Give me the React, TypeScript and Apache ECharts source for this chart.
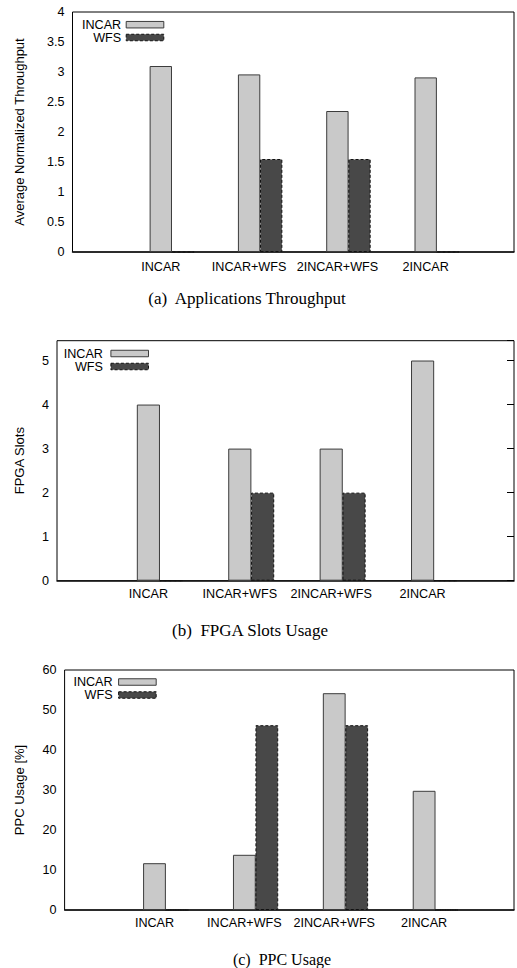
import React, { useEffect, useRef } from 'react';
import * as echarts from 'echarts';

// ---- data ----
const categories = ['INCAR', 'INCAR+WFS', '2INCAR+WFS', '2INCAR'];
const seriesNames = ['INCAR', 'WFS'];
const throughputIncar = [3.1, 2.96, 2.35, 2.91];
const throughputWfs = [0, 1.55, 1.55, 0];
const slotsIncar = [4, 3, 3, 5];
const slotsWfs = [0, 2, 2, 0];
const ppcIncar = [11.7, 13.8, 54.2, 29.8];
const ppcWfs = [0, 46.2, 46.2, 0];
const yTitles = ['Average Normalized Throughput', 'FPGA Slots', 'PPC Usage [%]'];
const captions = ['(a)\u00a0 Applications Throughput', '(b)\u00a0 FPGA Slots Usage', '(c)\u00a0 PPC Usage'];
const yMax = [4, 5.45, 60];
const yStep = [0.5, 1, 10];

// ---- layout / style ----
const W = 517;
const H = 968;
const SANS = '"Liberation Sans", Arial, Helvetica, sans-serif';
const SERIF = '"Liberation Serif", "Times New Roman", serif';
const BAR_FRAC = 0.25;

const panels = [
  { left: 72.5, top: 12, width: 447.5, height: 240, nameGap: 46.5, labelMargin: 8.5,
    legendRight: 352.7, legendTops: [18.2, 31], textPad: 0, rightTicks: false,
    capX: 247, capY: 298, capSize: 17, incar: throughputIncar, wfs: throughputWfs },
  { left: 57, top: 340.7, width: 463, height: 240, nameGap: 31, labelMargin: 6.5,
    legendRight: 368, legendTops: [347, 360], textPad: 3, rightTicks: true,
    capX: 250, capY: 630, capSize: 17, incar: slotsIncar, wfs: slotsWfs },
  { left: 64.6, top: 670, width: 456, height: 240, nameGap: 38.6, labelMargin: 6,
    legendRight: 360.3, legendTops: [675.5, 688.5], textPad: 1, rightTicks: false,
    capX: 282, capY: 959, capSize: 16, incar: ppcIncar, wfs: ppcWfs },
];

const incarStyle = { color: '#c9c9c9', borderColor: '#3c3c3c', borderWidth: 1 };
const wfsStyle = { color: '#484848', borderColor: '#111111', borderWidth: 1, borderType: [3, 2] as any };

function buildOption() {
  const grid: any[] = [];
  const xAxis: any[] = [];
  const yAxis: any[] = [];
  const series: any[] = [];
  const legend: any[] = [];
  const graphic: any[] = [];

  panels.forEach((p, k) => {
    grid.push({
      left: p.left, top: p.top, width: p.width, height: p.height,
      show: true, borderColor: '#000', borderWidth: 1, backgroundColor: 'transparent',
    });
    xAxis.push({
      type: 'value', gridIndex: k, min: -1, max: 4, interval: 1,
      axisLine: { show: true, lineStyle: { color: '#111', width: 1.5 } },
      axisTick: { show: false },
      splitLine: { show: false },
      axisLabel: {
        margin: p.labelMargin, color: '#000', fontSize: 12.6, fontFamily: SANS,
        formatter: (v: number) => (categories[v] !== undefined ? categories[v] : ''),
      },
    });
    const yIdx = yAxis.length;
    yAxis.push({
      type: 'value', gridIndex: k, min: 0, max: yMax[k], interval: yStep[k],
      name: yTitles[k], nameLocation: 'middle', nameGap: p.nameGap,
      nameTextStyle: { color: '#000', fontSize: 13, fontFamily: SANS },
      axisLine: { show: false },
      axisTick: { show: false },
      splitLine: { show: false },
      axisLabel: {
        margin: 8, color: '#000', fontSize: 12.6, fontFamily: SANS,
        formatter: (v: number) => {
          const r = Math.round(v / yStep[k]);
          return Math.abs(r * yStep[k] - v) < 1e-9 ? String(v) : '';
        },
      },
    });
    if (p.rightTicks) {
      yAxis.push({
        type: 'value', gridIndex: k, position: 'right', min: 0, max: yMax[k], interval: yStep[k],
        axisLine: { show: false },
        axisTick: { show: true, inside: true, length: 7, lineStyle: { color: '#000', width: 1 } },
        axisLabel: { show: false },
        splitLine: { show: false },
      });
    }
    const barW = (p.width / 5) * BAR_FRAC;
    series.push({
      type: 'bar', name: seriesNames[0], xAxisIndex: k, yAxisIndex: yIdx,
      barWidth: barW, barGap: '-100%',
      data: p.incar.map((v, i) => [i, v]),
      itemStyle: incarStyle,
    });
    series.push({
      type: 'bar', name: seriesNames[1], xAxisIndex: k, yAxisIndex: yIdx,
      barWidth: barW, barGap: '-100%',
      data: p.wfs.map((v, i) => [i + BAR_FRAC, v]),
      itemStyle: wfsStyle,
    });
    [incarStyle, wfsStyle].forEach((st, j) => {
      legend.push({
        orient: 'vertical', align: 'right', right: p.legendRight, top: p.legendTops[j],
        padding: 0, itemWidth: 37.6, itemHeight: 6.5, icon: 'rect', selectedMode: false,
        data: [seriesNames[j]],
        itemStyle: st,
        textStyle: { color: '#000', fontSize: 12.6, fontFamily: SANS, lineHeight: 13, padding: [0, p.textPad, 0, 0] },
      });
    });
    graphic.push({
      type: 'text', x: p.capX, y: p.capY,
      style: { text: captions[k], fill: '#000', font: `${p.capSize}px ${SERIF}`, textAlign: 'center', textVerticalAlign: 'middle' },
    });
  });

  return {
    animation: false,
    backgroundColor: '#fff',
    grid, xAxis, yAxis, series, legend, graphic,
  };
}

export default function App() {
  const ref = useRef<HTMLDivElement>(null);
  useEffect(() => {
    if (!ref.current) return;
    const chart = echarts.init(ref.current, undefined, { renderer: 'svg' });
    chart.setOption(buildOption() as any);
    return () => chart.dispose();
  }, []);
  return (
    <div
      ref={ref}
      style={{ position: 'absolute', left: 0, top: 0, width: W, height: H, overflow: 'hidden', background: '#fff' }}
    />
  );
}
